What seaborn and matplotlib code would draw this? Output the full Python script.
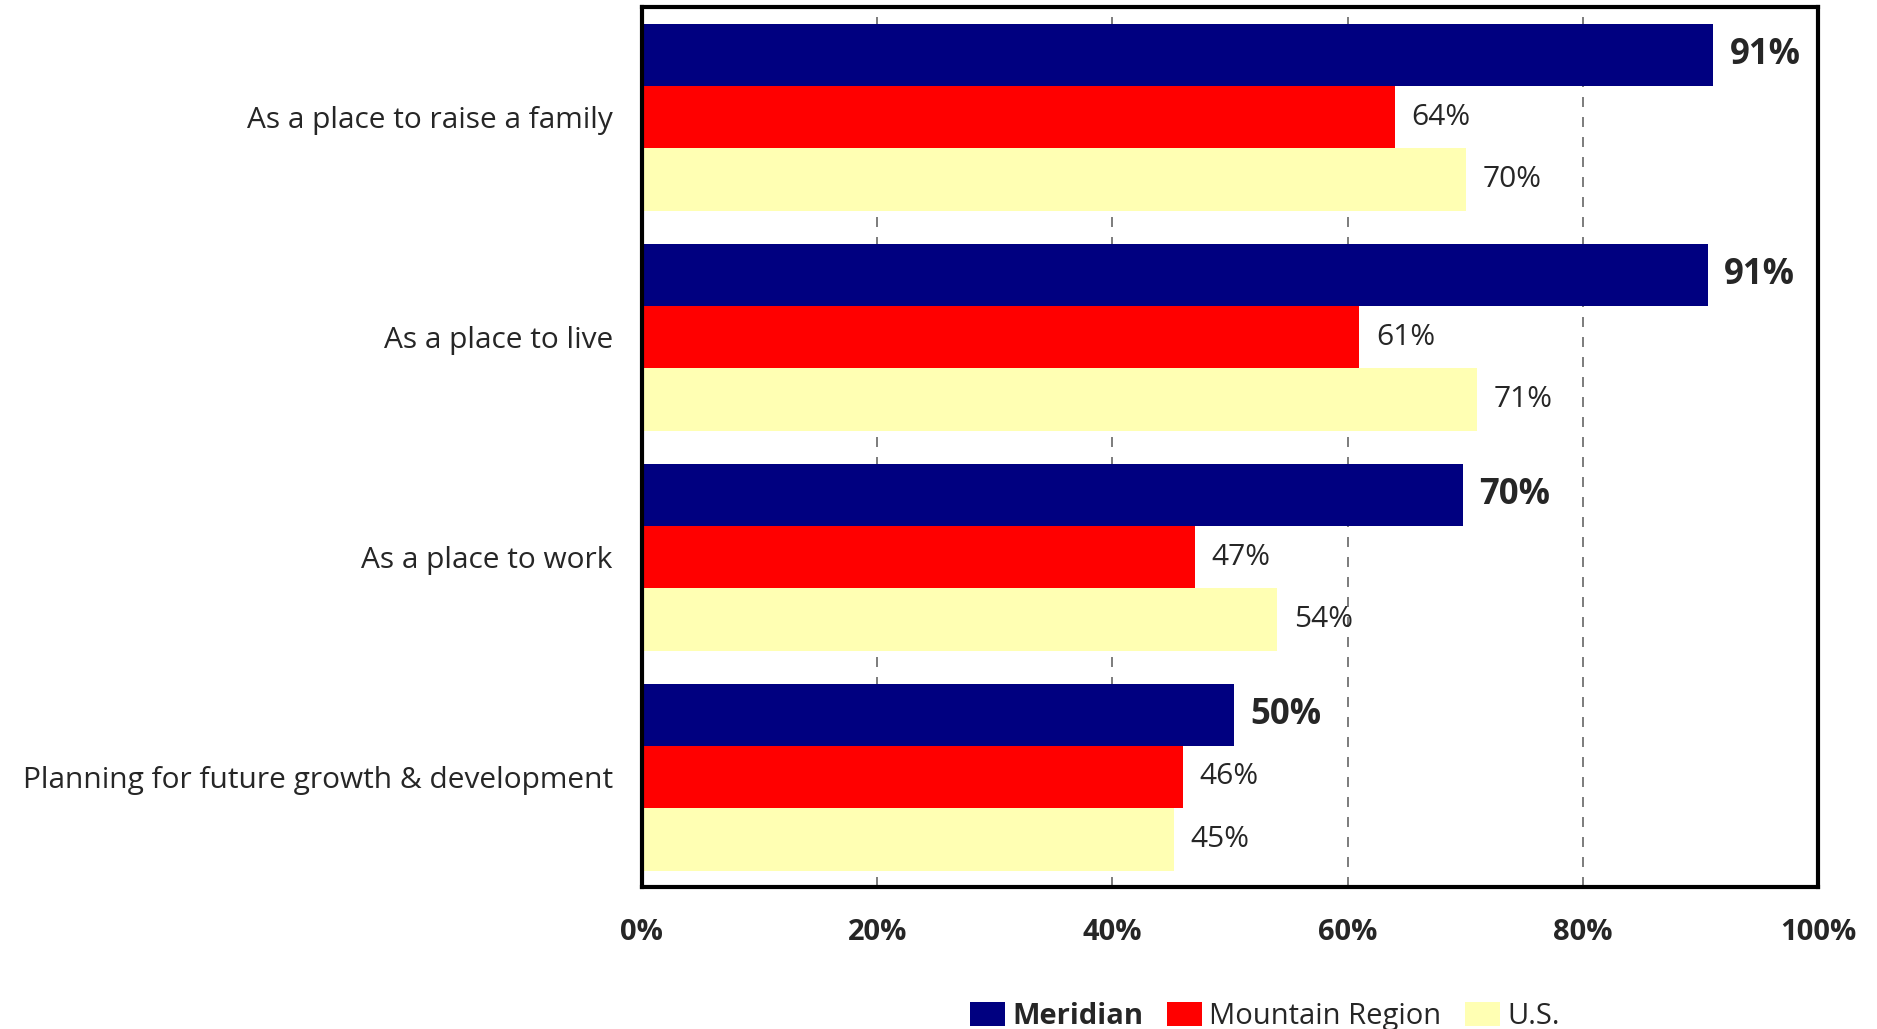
import pandas as pd
import matplotlib
matplotlib.use('Agg')
import matplotlib.pyplot as plt
import seaborn as sns
from matplotlib.patches import Patch

categories = ['As a place to raise a family', 'As a place to live', 'As a place to work',
              'Planning for future growth & development']
meridian = [91.1, 90.6, 69.8, 50.3]
mountain = [64.0, 61.0, 47.0, 46.0]
us = [70.1, 71.0, 54.0, 45.2]
series = ['Meridian', 'Mountain Region', 'U.S.']
colors = ['#000080', '#ff0000', '#ffffb3']
xticks = [0, 20, 40, 60, 80, 100]

df = pd.DataFrame({
    'category': categories * 3,
    'series': [series[0]] * 4 + [series[1]] * 4 + [series[2]] * 4,
    'value': meridian + mountain + us,
})

sns.set_style('white')
plt.rcParams['font.family'] = ['Open Sans', 'DejaVu Sans']

fig = plt.figure(figsize=(18.77, 10.29), dpi=100)
ax = fig.add_axes([0.342, 0.138, 0.6266, 0.855])

sns.barplot(data=df, y='category', x='value', hue='series', order=categories,
            hue_order=series, palette=colors, orient='h', width=0.85,
            saturation=1, linewidth=0, ax=ax, legend=False)

ax.set_xlim(0, 100)
ax.set_ylim(3.5, -0.5)
ax.set_xticks(xticks)
ax.set_xticklabels([f'{t}%' for t in xticks], fontsize=21, fontweight='bold',
                   fontstretch='condensed')
ax.tick_params(axis='x', length=0, pad=22)
ax.tick_params(axis='y', length=0, pad=21, labelsize=21.5)
ax.set_xlabel('')
ax.set_ylabel('')
ax.set_axisbelow(True)
ax.xaxis.grid(True, linestyle=(0, (6, 6)), color='#666666', linewidth=1.2)
for s in ax.spines.values():
    s.set_visible(True)
    s.set_color('black')
    s.set_linewidth(3)

# value labels
for i, cont in enumerate(ax.containers):
    vals = [meridian, mountain, us][i]
    bold = i == 0
    txts = ax.bar_label(cont, labels=[f'{round(v):.0f}%' for v in vals], padding=12,
                        fontsize=25 if bold else 21.5, fontweight='bold' if bold else 'normal')
    for t in txts:
        t.set_y(t.get_position()[1] + 0.02)

handles = [Patch(facecolor=c, edgecolor='none') for c in colors]
leg = fig.legend(handles, series, loc='center', bbox_to_anchor=(0.674, 0.012),
                 ncol=3, frameon=False, fontsize=21, handlelength=1.2,
                 handleheight=0.85, handletextpad=0.25, columnspacing=0.8)
leg.get_texts()[0].set_fontweight('bold')

fig.savefig('out.png', dpi=100)
